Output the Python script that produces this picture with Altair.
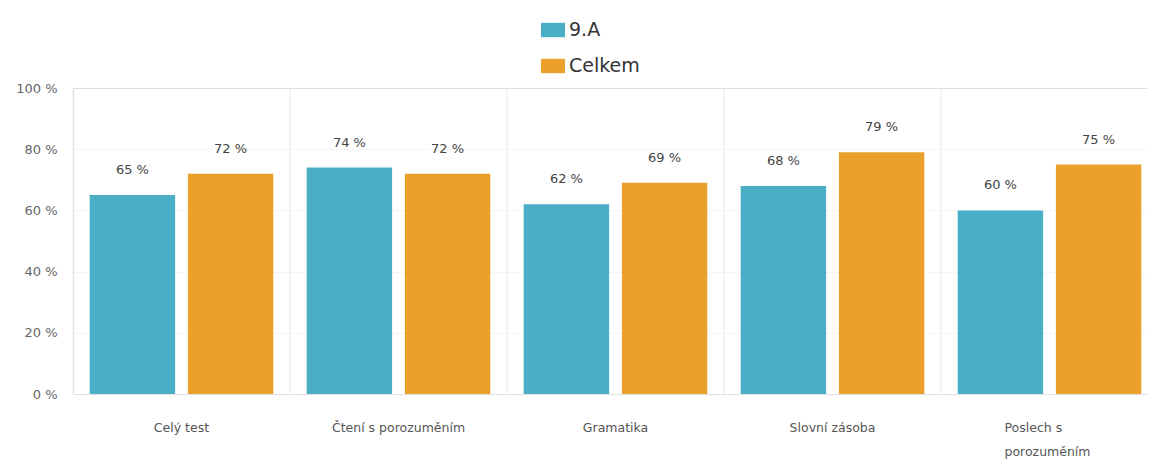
import altair as alt
import pandas as pd

categories = ["Celý test", "Čtení s porozuměním", "Gramatika", "Slovní zásoba", "Poslech s porozuměním"]
series_names = ["9.A", "Celkem"]
values_9a = [65, 74, 62, 68, 60]
values_celkem = [72, 72, 69, 79, 75]
colors = ["#4AAEC7", "#EAA02A"]
y_ticks = [0, 20, 40, 60, 80, 100]

rows = []
for c, a, b in zip(categories, values_9a, values_celkem):
    rows.append({"cat": c, "series": series_names[0], "value": a})
    rows.append({"cat": c, "series": series_names[1], "value": b})
df = pd.DataFrame(rows)
sep_df = pd.DataFrame({"cat": categories})

FONT = "DejaVu Sans"

x_scale = alt.Scale(domain=categories, paddingInner=0, paddingOuter=0)
x_enc = alt.X(
    "cat:N",
    scale=x_scale,
    sort=categories,
    title=None,
    axis=alt.Axis(
        labelAngle=0,
        ticks=False,
        domain=True,
        domainColor="#e0e0e0",
        grid=False,
        labelFont=FONT,
        labelFontSize=12.5,
        labelColor="#555555",
        labelPadding=33,
        labelLineHeight=24,
        labelExpr="datum.label == 'Poslech s porozuměním' ? ['Poslech s', 'porozuměním'] : datum.label",
        labelAlign={"condition": {"test": "datum.label == 'Poslech s porozuměním'", "value": "left"}, "value": "center"},
        labelOffset={"condition": {"test": "datum.label == 'Poslech s porozuměním'", "value": -45}, "value": 0},
    ),
)
xoff = alt.XOffset(
    "series:N",
    sort=series_names,
    scale=alt.Scale(domain=series_names, paddingInner=0.13, paddingOuter=0.17),
)
y_enc = alt.Y(
    "value:Q",
    scale=alt.Scale(domain=[0, 100], nice=False),
    title=None,
    axis=alt.Axis(
        values=y_ticks,
        labelExpr="datum.value + ' %'",
        ticks=False,
        labelPadding=16,
        labelFont=FONT,
        labelFontSize=13,
        labelColor="#666666",
        domain=True,
        domainColor="#e0e0e0",
        grid=True,
        gridColor={"condition": {"test": "datum.value == 100", "value": "#dddddd"}, "value": "#f5f5f5"},
    ),
)

bars = alt.Chart(df).mark_bar().encode(
    x=x_enc,
    xOffset=xoff,
    y=y_enc,
    color=alt.Color(
        "series:N",
        sort=series_names,
        scale=alt.Scale(domain=series_names, range=colors),
        title=None,
        legend=alt.Legend(
            orient="none",
            legendX=468,
            legendY=-70,
            direction="vertical",
            symbolType="M-1,-0.6H1V0.6H-1Z",
            symbolSize=576,
            symbolStrokeWidth=0,
            labelFont=FONT,
            labelFontSize=19,
            labelColor="#333333",
            labelOffset=4,
            rowPadding=14,
        ),
    ),
)

labels = alt.Chart(df).mark_text(
    baseline="middle", dy=-25, font=FONT, fontSize=13, color="#444444"
).encode(
    x=x_enc,
    xOffset=xoff,
    y=alt.Y("value:Q", scale=alt.Scale(domain=[0, 100], nice=False)),
    text=alt.Text("label:N"),
).transform_calculate(label="datum.value + ' %'")

seps = alt.Chart(sep_df).mark_rule(color="#e8e8e8", strokeWidth=1).encode(
    x=alt.X("cat:N", scale=x_scale, sort=categories, bandPosition=0)
)

chart = alt.layer(seps, bars, labels).properties(
    width=1085,
    height=306,
    autosize="none",
    padding={"left": 65, "top": 80, "right": -11, "bottom": 68},
).configure_view(stroke=None)

chart.save("out.html", embed_options={"renderer": "svg", "actions": False})
